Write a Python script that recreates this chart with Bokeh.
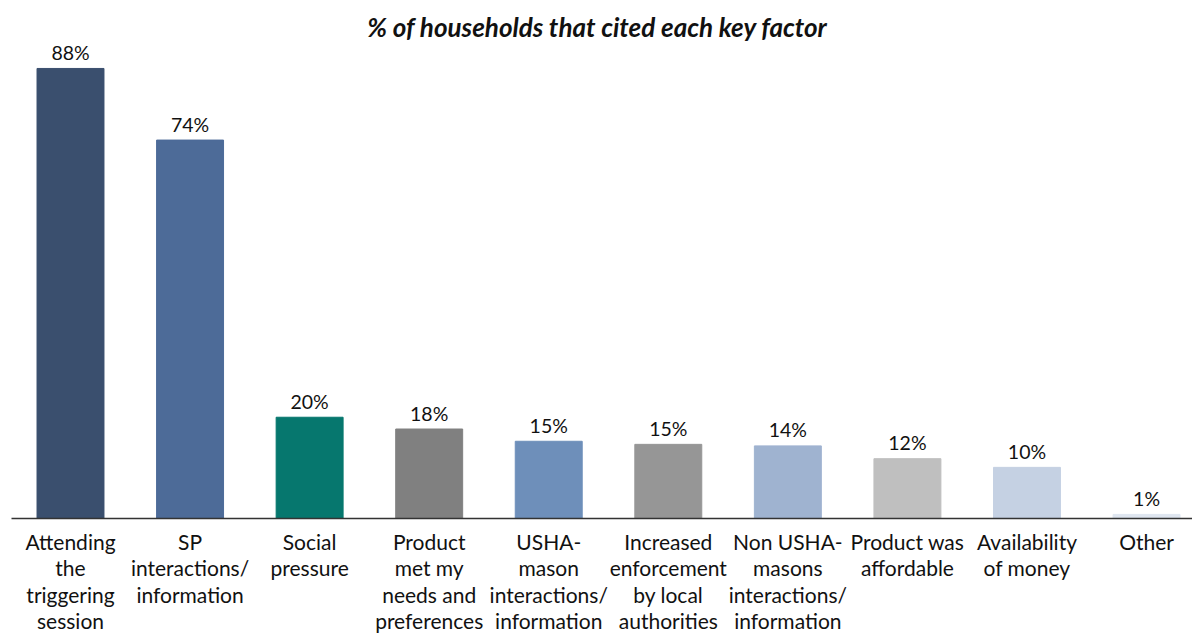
from bokeh.plotting import figure
from bokeh.models import ColumnDataSource, Range1d
from bokeh.core.properties import value
from bokeh.embed import file_html
from bokeh.resources import INLINE

categories = [
    "Attending\nthe\ntriggering\nsession",
    "SP\ninteractions/\ninformation",
    "Social\npressure",
    "Product\nmet my\nneeds and\npreferences",
    "USHA-\nmason\ninteractions/\ninformation",
    "Increased\nenforcement\nby local\nauthorities",
    "Non USHA-\nmasons\ninteractions/\ninformation",
    "Product was\naffordable",
    "Availability\nof money",
    "Other",
]
values = [88.0, 74.0, 19.8, 17.5, 15.1, 14.5, 14.2, 11.7, 10.0, 0.8]
value_labels = ["88%", "74%", "20%", "18%", "15%", "15%", "14%", "12%", "10%", "1%"]
colors = ["#3a4f6e", "#4d6b98", "#06776e", "#808080", "#6e8fba",
          "#969696", "#9fb3d0", "#bfbfbf", "#c5d1e3", "#dfe6f0"]
title = "% of households that cited each key factor"

FONT = "Lato"
W, H = 1192, 634
sx = 119.56
sy = 5.114
x0 = -70 / sx
x1 = x0 + W / sx
y1 = 518 / sy
y0 = y1 - H / sy

p = figure(width=W, height=H, output_backend="svg", toolbar_location=None,
           x_range=Range1d(x0, x1), y_range=Range1d(y0, y1),
           min_border=0, outline_line_color=None)
p.axis.visible = False
p.grid.visible = False
p.background_fill_color = "white"
p.border_fill_color = "white"

xs = list(range(len(values)))
bars = ColumnDataSource(dict(x=xs, top=values, color=colors, lbl=value_labels))
p.vbar(x="x", top="top", bottom=0, width=0.56, color="color", source=bars)

# baseline
p.segment(x0=[x0 + 11 / sx], y0=[0], x1=[x1], y1=[0], line_color="#333333", line_width=1.6)

p.text(x="x", y="top", text="lbl", source=bars, y_offset=-16,
       text_align="center", text_baseline="middle",
       text_font=value(FONT), text_font_size="19.5px", text_color="#111111")

lx, ly, lt, lo = [], [], [], []
for i, c in enumerate(categories):
    for k, line in enumerate(c.split("\n")):
        lx.append(i)
        ly.append(0)
        lt.append(line)
        lo.append(22.5 + k * 26.6)
cats = ColumnDataSource(dict(x=lx, y=ly, t=lt, o=lo))
p.text(x="x", y="y", text="t", y_offset="o", source=cats,
       text_align="center", text_baseline="middle",
       text_font=value(FONT), text_font_size="21px", text_color="#111111")

p.text(x=[x0 + 597 / sx], y=[y1], text=[title], y_offset=[26],
       text_align="center", text_baseline="middle",
       text_font=value(FONT), text_font_size="26px", text_font_style="bold italic",
       text_color="#111111")

open("out.html", "w").write(file_html(p, INLINE))
